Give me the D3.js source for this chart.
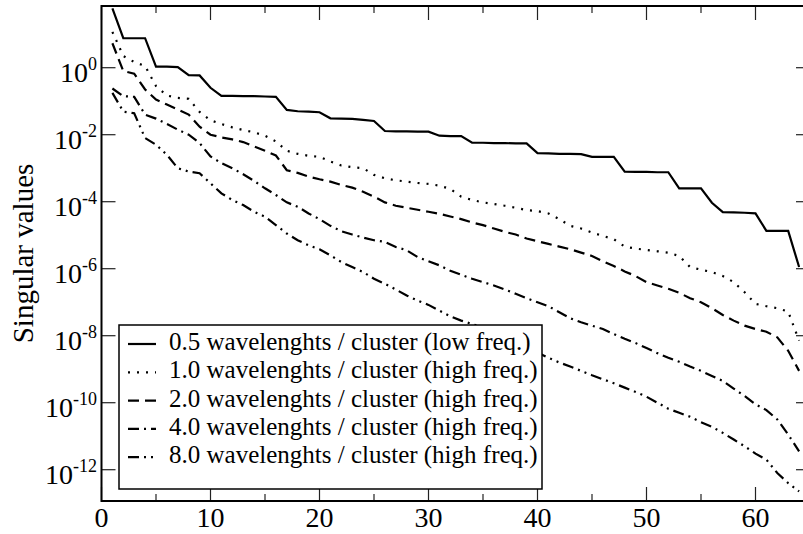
<!DOCTYPE html>
<html><head><meta charset="utf-8">
<script src="https://cdn.jsdelivr.net/npm/d3@7/dist/d3.min.js"></script>
<style>body{margin:0;background:#fff}svg{display:block}</style>
</head><body><svg id="c" width="803" height="534"></svg>
<script>
// rank (singular value index)
const ranks = d3.range(1, 65);
// log10 of singular values, one array per series
const exp05 = [1.77,0.88,0.88,0.88,0.03,0.03,0.02,-0.22,-0.23,-0.60,
 -0.84,-0.84,-0.85,-0.85,-0.86,-0.87,-1.26,-1.30,-1.31,-1.33,
 -1.51,-1.52,-1.53,-1.56,-1.59,-1.89,-1.90,-1.90,-1.91,-1.91,
 -2.03,-2.04,-2.04,-2.24,-2.24,-2.25,-2.25,-2.26,-2.26,-2.55,
 -2.56,-2.57,-2.57,-2.58,-2.66,-2.66,-2.66,-3.10,-3.11,-3.11,
 -3.12,-3.12,-3.60,-3.60,-3.60,-4.03,-4.31,-4.32,-4.33,-4.35,
 -4.87,-4.87,-4.87,-5.95];
const exp10 = [1.07,0.35,0.17,0.05,-0.55,-0.83,-0.90,-0.93,-1.32,-1.57,
 -1.68,-1.78,-1.86,-1.93,-2.03,-2.20,-2.48,-2.57,-2.63,-2.66,
 -2.80,-2.92,-2.97,-3.00,-3.20,-3.30,-3.36,-3.40,-3.44,-3.47,
 -3.52,-3.62,-3.85,-3.95,-4.02,-4.07,-4.12,-4.18,-4.25,-4.28,
 -4.35,-4.52,-4.72,-4.80,-4.92,-5.02,-5.12,-5.34,-5.40,-5.44,
 -5.48,-5.52,-5.62,-5.95,-6.03,-6.10,-6.22,-6.40,-6.70,-7.05,
 -7.12,-7.18,-7.28,-8.15];
const exp20 = [0.73,-0.10,-0.18,-0.65,-0.95,-1.10,-1.25,-1.40,-1.76,-2.00,
 -2.08,-2.14,-2.22,-2.35,-2.48,-2.62,-3.06,-3.14,-3.25,-3.33,
 -3.40,-3.50,-3.58,-3.70,-3.85,-4.02,-4.12,-4.18,-4.24,-4.30,
 -4.36,-4.44,-4.52,-4.62,-4.70,-4.80,-4.90,-4.98,-5.10,-5.18,
 -5.26,-5.34,-5.42,-5.52,-5.62,-5.78,-5.92,-6.08,-6.22,-6.40,
 -6.50,-6.60,-6.72,-6.88,-7.00,-7.18,-7.38,-7.55,-7.70,-7.80,
 -7.88,-8.05,-8.45,-9.05];
const exp40 = [-0.62,-0.85,-0.87,-1.40,-1.52,-1.68,-1.85,-2.00,-2.25,-2.65,
 -2.85,-3.00,-3.18,-3.38,-3.60,-3.80,-4.02,-4.15,-4.35,-4.52,
 -4.72,-4.88,-4.98,-5.07,-5.15,-5.20,-5.35,-5.45,-5.65,-5.78,
 -5.90,-6.06,-6.18,-6.30,-6.40,-6.50,-6.62,-6.75,-6.88,-7.00,
 -7.12,-7.30,-7.48,-7.60,-7.70,-7.80,-7.95,-8.09,-8.22,-8.37,
 -8.52,-8.66,-8.78,-8.92,-9.05,-9.20,-9.35,-9.58,-9.80,-10.05,
 -10.22,-10.50,-10.95,-11.45];
const exp80 = [-0.75,-1.31,-1.36,-2.10,-2.30,-2.60,-3.00,-3.10,-3.15,-3.45,
 -3.75,-3.95,-4.10,-4.30,-4.45,-4.70,-4.95,-5.15,-5.30,-5.42,
 -5.60,-5.80,-5.95,-6.10,-6.30,-6.45,-6.62,-6.80,-6.95,-7.08,
 -7.25,-7.42,-7.55,-7.65,-7.75,-7.90,-8.05,-8.20,-8.35,-8.50,
 -8.66,-8.80,-8.92,-9.05,-9.18,-9.30,-9.42,-9.55,-9.68,-9.82,
 -10.00,-10.18,-10.30,-10.42,-10.58,-10.72,-10.90,-11.10,-11.30,-11.52,
 -11.70,-12.10,-12.40,-12.65];
const seriesNames = [
 "0.5 wavelenghts / cluster (low freq.)",
 "1.0 wavelenghts / cluster (high freq.)",
 "2.0 wavelenghts / cluster (high freq.)",
 "4.0 wavelenghts / cluster (high freq.)",
 "8.0 wavelenghts / cluster (high freq.)"];
const xMajorTicks = [0,10,20,30,40,50,60];
const xMinorTicks = [5,15,25,35,45,55,65];
const yTickExps = [0,-2,-4,-6,-8,-10,-12];
const yTitle = "Singular values";

const seriesExps = [exp05, exp10, exp20, exp40, exp80];
const dashes = [null, "2,7", "11,6", "11,5,2,5", "11,5,2,5,2,5"];

const svg = d3.select("#c");
const L = 101.5, R = 810, T = 6, B = 501;
const x = d3.scaleLinear().domain([0, 65]).range([L, R]);
const y = d3.scaleLog().domain([Math.pow(10, -12.934), Math.pow(10, 1.842)]).range([B, T]);
const font = "'Liberation Serif','Times New Roman',serif";

svg.append("rect").attr("width",803).attr("height",534).attr("fill","#fff");
svg.append("clipPath").attr("id","pc").append("rect")
  .attr("x",L).attr("y",T).attr("width",R-L).attr("height",B-T);

const line = d3.line().x(d => x(d.r)).y(d => y(d.v));
const gl = svg.append("g").attr("clip-path","url(#pc)");
seriesExps.forEach((arr, i) => {
  const data = arr.map((e, k) => ({r: ranks[k], v: Math.pow(10, e)}));
  gl.append("path").datum(data).attr("d", line)
    .attr("fill","none").attr("stroke","#000").attr("stroke-width",2.2)
    .attr("stroke-dasharray", dashes[i]).attr("stroke-linejoin","miter");
});

// ticks
const tk = svg.append("g").attr("stroke","#222").attr("stroke-width",1.2);
xMajorTicks.forEach(v => {
  tk.append("line").attr("x1",x(v)).attr("x2",x(v)).attr("y1",B).attr("y2",B-14);
  tk.append("line").attr("x1",x(v)).attr("x2",x(v)).attr("y1",T).attr("y2",T+14);
});
xMinorTicks.forEach(v => {
  tk.append("line").attr("x1",x(v)).attr("x2",x(v)).attr("y1",B).attr("y2",B-7);
  tk.append("line").attr("x1",x(v)).attr("x2",x(v)).attr("y1",T).attr("y2",T+7);
});
yTickExps.forEach(e => {
  const yy = y(Math.pow(10, e));
  tk.append("line").attr("x1",L).attr("x2",L+14).attr("y1",yy).attr("y2",yy);
  tk.append("line").attr("x1",R).attr("x2",R-14).attr("y1",yy).attr("y2",yy);
});

// frame
svg.append("rect").attr("x",L).attr("y",T).attr("width",R-L).attr("height",B-T)
  .attr("fill","none").attr("stroke","#000").attr("stroke-width",2);

// x labels
svg.append("g").selectAll("text").data(xMajorTicks).join("text")
  .attr("x", d => x(d)).attr("y", 527).attr("text-anchor","middle")
  .attr("font-family", font).attr("font-size", 28).text(d => d);

// y labels
yTickExps.forEach(e => {
  const yy = y(Math.pow(10, e));
  const t = svg.append("text").attr("x", 97).attr("y", yy + 14)
    .attr("text-anchor","end").attr("font-family", font).attr("font-size", 28);
  t.append("tspan").text("10");
  t.append("tspan").attr("dy", -12).attr("font-size", 18).text(String(e));
});

svg.append("text").attr("transform", `translate(33,${(T+B)/2}) rotate(-90)`)
  .attr("text-anchor","middle").attr("font-family", font).attr("font-size", 29)
  .text(yTitle);

// legend
const lg = svg.append("g");
lg.append("rect").attr("x",119).attr("y",325).attr("width",423).attr("height",164)
  .attr("fill","#fff").attr("stroke","#000").attr("stroke-width",1.5);
seriesNames.forEach((nm, i) => {
  const by = 350 + i * 28.3;
  lg.append("line").attr("x1",128).attr("x2",156).attr("y1",by-6).attr("y2",by-6)
    .attr("stroke","#000").attr("stroke-width",2.2).attr("stroke-dasharray", dashes[i]);
  lg.append("text").attr("x",169).attr("y",by).attr("font-family",font)
    .attr("font-size",25).text(nm);
});
</script></body></html>
